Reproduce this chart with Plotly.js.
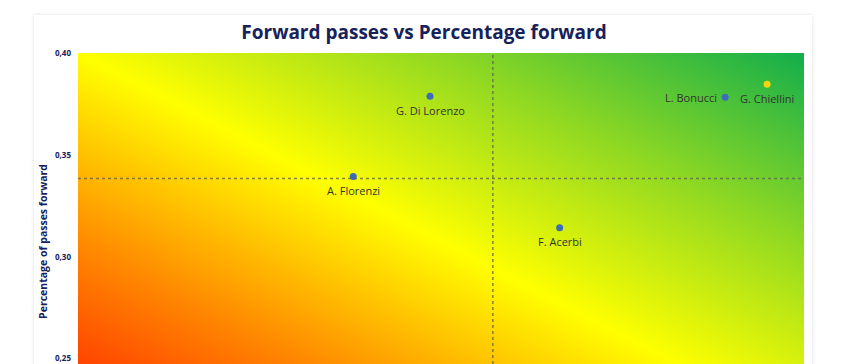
<!DOCTYPE html>
<html><head><meta charset="utf-8">
<script src="https://cdn.plot.ly/plotly-3.0.1.min.js"></script>
<style>
html,body{margin:0;padding:0;background:#fff;overflow:hidden;width:848px;height:364px;}
#card{position:absolute;left:34px;top:15px;width:778px;height:600px;background:#fff;box-shadow:0 0 4px rgba(0,0,0,0.13);}
#chart{position:absolute;left:0;top:0;width:848px;height:480px;}
</style></head>
<body>
<div id="card"></div>
<div id="chart"></div>
<script>
const players = ["G. Di Lorenzo", "A. Florenzi", "F. Acerbi", "L. Bonucci", "G. Chiellini"];
const forwardPasses = [169.7, 132.7, 232.2, 312.0, 332.2];
const pctForward = [0.3788, 0.3394, 0.3143, 0.3783, 0.3847];
const highlight = ["no", "no", "no", "no", "yes"];
const labelSide = ["below", "below", "below", "left", "below"];
const meanPasses = 200;
const meanPct = 0.3384;
const xRange = [0, 350];
const yRange = [0.215, 0.40];
const yTicks = [0.25, 0.30, 0.35, 0.40];

// background gradient image (red -> yellow -> green toward top right)
function gradientImage(W, H) {
  const c = document.createElement('canvas');
  c.width = W; c.height = H;
  const ctx = c.getContext('2d');
  const n2 = W*W + H*H;
  const cx = W/2, cy = H/2;
  const dx = W*H*H/n2, dy = W*H*W/n2;
  const g = ctx.createLinearGradient(cx - dx, cy + dy, cx + dx, cy - dy);
  g.addColorStop(0, '#ff1e00');
  g.addColorStop(0.25, '#ff8a00');
  g.addColorStop(0.5, '#ffff00');
  g.addColorStop(0.75, '#8ed823');
  g.addColorStop(1, '#12ae4c');
  ctx.fillStyle = g;
  ctx.fillRect(0, 0, W, H);
  return c.toDataURL('image/png');
}

const navy = '#17215a';
const font = 'Open Sans, Noto Sans, sans-serif';
const trace = {
  type: 'scatter', mode: 'markers',
  x: forwardPasses, y: pctForward,
  marker: {size: 7, color: highlight.map(h => h === 'yes' ? '#f2d50f' : '#3a6cb8')},
  hoverinfo: 'none', cliponaxis: false
};

const labels = players.map((p, i) => ({
  x: forwardPasses[i], y: pctForward[i], xref: 'x', yref: 'y', text: p, showarrow: false,
  xanchor: labelSide[i] === 'left' ? 'right' : 'center', yanchor: 'middle',
  xshift: labelSide[i] === 'left' ? -6 : 0,
  yshift: labelSide[i] === 'left' ? 0 : -14,
  font: {family: font, size: 11, color: '#333333'}
}));

const layout = {
  width: 848, height: 480,
  margin: {l: 78, r: 44, t: 53, b: 50},
  paper_bgcolor: 'rgba(0,0,0,0)', plot_bgcolor: 'rgba(0,0,0,0)',
  separators: ', ',
  showlegend: false,
  title: {text: 'Forward passes vs Percentage forward', x: 0.5, xanchor: 'center',
          y: 1 - 32/480, yanchor: 'middle', yref: 'container',
          font: {family: font, size: 19, color: navy, weight: 'bold'}},
  xaxis: {range: xRange, showgrid: false, zeroline: false, showticklabels: false, showline: false, ticks: ''},
  yaxis: {range: yRange, tickvals: yTicks, tickformat: '.2f', showgrid: false, zeroline: false,
          ticks: '', ticklen: 0, ticklabelstandoff: 6,
          tickfont: {family: font, size: 8, color: navy, weight: 'bold'},
          title: {text: 'Percentage of passes forward', standoff: 5,
                  font: {family: font, size: 10.5, color: navy, weight: 'bold'}}},
  annotations: labels,
  images: [{source: gradientImage(728, 377), xref: 'x', yref: 'y',
            x: xRange[0], y: yRange[1], sizex: xRange[1]-xRange[0], sizey: yRange[1]-yRange[0],
            xanchor: 'left', yanchor: 'top', sizing: 'stretch', layer: 'below'}],
  shapes: [
    {type: 'line', xref: 'x', yref: 'y', x0: meanPasses, x1: meanPasses, y0: yRange[0], y1: yRange[1],
     line: {color: 'rgba(95,95,80,0.75)', width: 1.5, dash: 'dot'}},
    {type: 'line', xref: 'x', yref: 'y', x0: xRange[0], x1: xRange[1], y0: meanPct, y1: meanPct,
     line: {color: 'rgba(95,95,80,0.75)', width: 1.5, dash: 'dot'}}
  ]
};

Plotly.newPlot('chart', [trace], layout, {displayModeBar: false, staticPlot: true});
</script>
</body></html>
